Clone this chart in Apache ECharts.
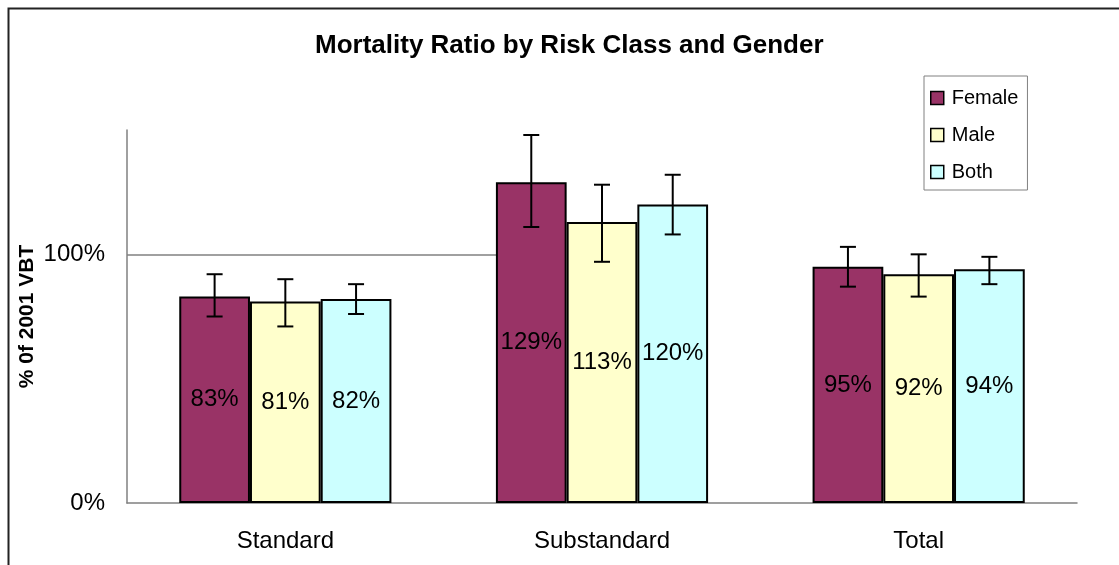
<!DOCTYPE html>
<html>
<head>
<meta charset="utf-8">
<title>Mortality Ratio by Risk Class and Gender</title>
<script src="https://cdn.jsdelivr.net/npm/echarts@6/dist/echarts.min.js"></script>
<style>
	html, body { margin: 0; padding: 0; background: #fff; }
	#chart { width: 1119px; height: 565px; }
</style>
</head>
<body>
<div id="chart"></div>
<script>
	// categories / series
	var categories = ['Standard', 'Substandard', 'Total'];
	var seriesNames = ['Female', 'Male', 'Both'];
	var female = [83, 129, 95];
	var male = [81, 113, 92];
	var both = [82, 120, 94];
	// error bar ranges (low / high)
	var femaleLow = [75, 111, 87];
	var femaleHigh = [92, 148, 103];
	var maleLow = [71, 97, 83];
	var maleHigh = [90, 128, 100];
	var bothLow = [76, 108, 88];
	var bothHigh = [88, 132, 99];
	var yTicks = [0, 100];

	var colors = ['#993366', '#FFFFCC', '#CCFFFF'];
	var FONT = 'Liberation Sans, Arial, sans-serif';
	var GRID_LEFT = 127;
	var CAT_GAP = 0.33;

	var values = [female, male, both];
	var lows = [femaleLow, maleLow, bothLow];
	var highs = [femaleHigh, maleHigh, bothHigh];

	// error bar data: [category index, series index, low, high]
	var errData = [];
	for (var s = 0; s < 3; s++) {
		for (var c = 0; c < categories.length; c++) {
			errData.push([c, s, lows[s][c], highs[s][c]]);
		}
	}

	var mycharts = echarts.init(document.getElementById('chart'));

	var barSeries = values.map(function (v, i) {
		var item = {
			name: seriesNames[i],
			type: 'bar',
			data: v,
			barGap: '0%',
			barCategoryGap: (CAT_GAP * 100) + '%',
			itemStyle: {
				color: colors[i],
				borderColor: '#000',
				borderWidth: 2
			},
			label: {
				show: true,
				position: 'inside',
				formatter: '{c}%',
				color: '#000',
				fontSize: 24,
				fontFamily: FONT
			},
			z: 2
		};
		if (i === 0) {
			// the 100% line only runs from the axis to the Substandard group
			item.markLine = {
				silent: true,
				z: 1,
				symbol: ['none', 'none'],
				label: { show: false },
				lineStyle: { color: '#808080', width: 1.5, type: 'solid' },
				data: [[{ x: GRID_LEFT, yAxis: yTicks[1] }, { xAxis: categories[1], yAxis: yTicks[1] }]]
			};
		}
		return item;
	});

	var errorSeries = {
		type: 'custom',
		name: 'error',
		silent: true,
		z: 5,
		encode: { x: 0, y: [2, 3] },
		data: errData,
		renderItem: function (params, api) {
			var c = api.value(0);
			var s = api.value(1);
			var lo = api.coord([c, api.value(2)]);
			var hi = api.coord([c, api.value(3)]);
			var band = api.size([1, 0])[0];
			var barW = band * (1 - CAT_GAP) / 3;
			var x = lo[0] + (s - 1) * barW;
			var cap = 8;
			var style = { stroke: '#000', lineWidth: 2 };
			return {
				type: 'group',
				children: [
					{ type: 'line', shape: { x1: x, y1: hi[1], x2: x, y2: lo[1] }, style: style },
					{ type: 'line', shape: { x1: x - cap, y1: hi[1], x2: x + cap, y2: hi[1] }, style: style },
					{ type: 'line', shape: { x1: x - cap, y1: lo[1], x2: x + cap, y2: lo[1] }, style: style }
				]
			};
		}
	};

	var options = {
		animation: false,
		textStyle: { fontFamily: FONT },
		title: {
			text: 'Mortality Ratio by Risk Class and Gender',
			left: 310,
			top: 28,
			textStyle: {
				fontSize: 26,
				fontWeight: 'bold',
				color: '#000',
				fontFamily: FONT
			}
		},
		legend: {
			data: seriesNames,
			orient: 'vertical',
			left: 924,
			top: 76,
			padding: [12, 9, 8, 6],
			itemGap: 17,
			itemWidth: 13,
			itemHeight: 13,
			icon: 'rect',
			itemStyle: { borderColor: '#000', borderWidth: 1.5 },
			borderColor: '#808080',
			borderWidth: 1,
			backgroundColor: '#fff',
			textStyle: {
				fontSize: 20,
				color: '#000',
				padding: [0, 0, 0, 3],
				fontFamily: FONT
			}
		},
		grid: {
			left: GRID_LEFT,
			right: 42,
			top: 130,
			bottom: 62
		},
		xAxis: {
			type: 'category',
			data: categories,
			axisLine: { lineStyle: { color: '#808080', width: 1.5 } },
			axisTick: { show: false },
			axisLabel: {
				margin: 26,
				fontSize: 24,
				color: '#000',
				fontFamily: FONT
			}
		},
		yAxis: {
			type: 'value',
			min: yTicks[0],
			max: 150,
			interval: yTicks[1] - yTicks[0],
			name: '% 0f 2001 VBT',
			nameLocation: 'middle',
			nameGap: 89,
			nameMoveOverlap: false,
			nameTextStyle: {
				fontSize: 21,
				fontWeight: 'bold',
				color: '#000',
				fontFamily: FONT
			},
			axisLine: { show: true, lineStyle: { color: '#808080', width: 1.5 } },
			axisTick: { show: false },
			splitLine: { show: false },
			axisLabel: {
				showMaxLabel: false,
				formatter: '{value}%',
				margin: 22,
				fontSize: 24,
				color: '#000',
				fontFamily: FONT
			}
		},
		graphic: [{
			type: 'rect',
			left: 6,
			top: 6,
			shape: { width: 1300, height: 700 },
			style: { fill: 'none', stroke: '#222', lineWidth: 2 },
			silent: true,
			z: -1
		}],
		series: barSeries.concat([errorSeries])
	};

	mycharts.setOption(options);
	window.onresize = mycharts.resize;
</script>
</body>
</html>
